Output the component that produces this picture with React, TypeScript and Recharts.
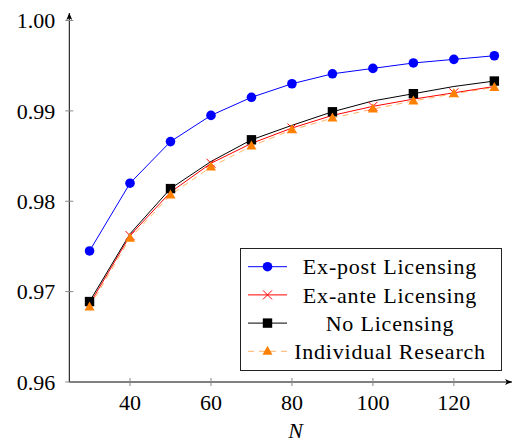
import React from 'react';
import { LineChart, Line, XAxis, YAxis, Legend } from 'recharts';

const nValues = [30, 40, 50, 60, 70, 80, 90, 100, 110, 120, 130];
const exPost = [0.9745, 0.982, 0.9866, 0.9895, 0.9915, 0.993, 0.9941, 0.9947, 0.9953, 0.9957, 0.9961];
const exAnte = [0.9686, 0.9762, 0.981, 0.9842, 0.9864, 0.9881, 0.9895, 0.9905, 0.9913, 0.992, 0.9927];
const noLicensing = [0.9689, 0.9764, 0.9814, 0.9844, 0.9868, 0.9884, 0.9899, 0.9911, 0.9919, 0.9927, 0.9933];
const individual = [0.9683, 0.9759, 0.9807, 0.9838, 0.9861, 0.9879, 0.9892, 0.9902, 0.9911, 0.9919, 0.9926];

const xTicks = [40, 60, 80, 100, 120];
const yTicks = [0.96, 0.97, 0.98, 0.99, 1.0];

const data = nValues.map((n, i) => ({
    n,
    exPost: exPost[i],
    exAnte: exAnte[i],
    noLicensing: noLicensing[i],
    individual: individual[i],
}));

const FONT = '"Liberation Serif", "Times New Roman", serif';
const textStyle = { fontFamily: FONT, fontSize: 22, fill: '#000' };
const BLUE = '#0000ff';
const RED = '#ff0000';
const ORANGE = '#ff8000';

// marker shapes, shared by the plot and the legend
const circle = (cx: number, cy: number, key?: string) => (
    <circle key={key} cx={cx} cy={cy} r={4.8} fill={BLUE} />
);
const cross = (cx: number, cy: number, key?: string) => (
    <path
        key={key}
        d={`M${cx - 4.5},${cy - 4.5}L${cx + 4.5},${cy + 4.5}M${cx - 4.5},${cy + 4.5}L${cx + 4.5},${cy - 4.5}`}
        stroke={RED}
        strokeWidth={1}
        fill="none"
    />
);
const square = (cx: number, cy: number, key?: string) => (
    <rect key={key} x={cx - 4.7} y={cy - 4.7} width={9.4} height={9.4} fill="#000" />
);
const triangle = (cx: number, cy: number, key?: string) => (
    <path key={key} d={`M${cx},${cy - 5.5}L${cx + 5},${cy + 3.5}L${cx - 5},${cy + 3.5}Z`} fill={ORANGE} />
);

// pgfplots "mark repeat" look: red and black only mark every other point
const blueDot = (p: any) => circle(p.cx, p.cy, `b-${p.index}`);
const redDot = (p: any) => (p.index % 2 === 1 ? cross(p.cx, p.cy, `r-${p.index}`) : <g key={`r-${p.index}`} />);
const blackDot = (p: any) => (p.index % 2 === 0 ? square(p.cx, p.cy, `k-${p.index}`) : <g key={`k-${p.index}`} />);
const orangeDot = (p: any) => triangle(p.cx, p.cy, `o-${p.index}`);

const YTick = ({ x, y, payload }: any) => (
    <g>
        <line x1={x - 4} x2={x + 4} y1={y} y2={y} stroke="#888" strokeWidth={1} />
        <text x={x - 14} y={y} dy="0.35em" textAnchor="end" style={textStyle}>
            {Number(payload.value).toFixed(2)}
        </text>
    </g>
);

const XTick = ({ x, y, payload }: any) => (
    <g>
        <line x1={x} x2={x} y1={y - 4} y2={y + 4} stroke="#888" strokeWidth={1} />
        <text x={x} y={y + 28} textAnchor="middle" style={textStyle}>
            {payload.value}
        </text>
    </g>
);

const legendItems = [
    { label: 'Ex-post Licensing', color: BLUE, dash: undefined, mark: circle },
    { label: 'Ex-ante Licensing', color: RED, dash: undefined, mark: cross },
    { label: 'No Licensing', color: '#000', dash: undefined, mark: square },
    { label: 'Individual Research', color: ORANGE, dash: '6 5', mark: triangle },
];

const LegendBox = () => (
    <svg width={262} height={124} style={{ display: 'block' }}>
        <rect x={0.5} y={0.5} width={261} height={122} fill="#fff" stroke="#222" strokeWidth={1} />
        {legendItems.map((item, i) => {
            const cy = 18.7 + i * 28.2;
            return (
                <g key={item.label}>
                    <line
                        x1={8}
                        x2={47}
                        y1={cy}
                        y2={cy}
                        stroke={item.color}
                        strokeWidth={1}
                        strokeDasharray={item.dash}
                        strokeOpacity={item.dash ? 0.6 : 1}
                    />
                    {item.mark(27.5, cy)}
                    <text x={150} y={cy} dy="0.35em" textAnchor="middle" style={{ ...textStyle, letterSpacing: 0.8 }}>
                        {item.label}
                    </text>
                </g>
            );
        })}
    </svg>
);

export default function App() {
    return (
        <div style={{ position: 'absolute', left: 0, top: 0, width: 512, height: 444, background: '#fff', fontFamily: FONT }}>
            <svg width={0} height={0} style={{ position: 'absolute' }}>
                <defs>
                    <marker
                        id="axisArrow"
                        viewBox="0 0 7 6"
                        refX={7}
                        refY={3}
                        markerWidth={7}
                        markerHeight={6}
                        markerUnits="userSpaceOnUse"
                        orient="auto-start-reverse"
                    >
                        <path d="M0,0 L7,3 L0,6 L1.8,3 Z" fill="#000" />
                    </marker>
                </defs>
            </svg>
            <LineChart
                width={512}
                height={444}
                data={data}
                margin={{ top: 13, right: 0, bottom: 2, left: 0 }}
                style={{ fontFamily: FONT }}
            >
                <XAxis
                    dataKey="n"
                    type="number"
                    domain={[25, 134.36]}
                    ticks={xTicks}
                    allowDataOverflow
                    height={60}
                    tickSize={0}
                    tickMargin={0}
                    tickLine={false}
                    tick={<XTick />}
                    axisLine={{ stroke: '#000', strokeWidth: 1, markerEnd: 'url(#axisArrow)' }}
                    label={{
                        value: 'N',
                        position: 'insideBottom',
                        offset: 4,
                        dx: 5,
                        style: { ...textStyle, fontStyle: 'italic' },
                    }}
                />
                <YAxis
                    type="number"
                    domain={[0.96, 1.00083]}
                    ticks={yTicks}
                    allowDataOverflow
                    width={69.3}
                    tickSize={0}
                    tickMargin={0}
                    tickLine={false}
                    tick={<YTick />}
                    axisLine={{ stroke: '#000', strokeWidth: 1, markerStart: 'url(#axisArrow)' }}
                />
                <Line dataKey="exPost" stroke={BLUE} strokeWidth={1} dot={blueDot} activeDot={false} isAnimationActive={false} />
                <Line dataKey="exAnte" stroke={RED} strokeWidth={1} dot={redDot} activeDot={false} isAnimationActive={false} />
                <Line dataKey="noLicensing" stroke="#000" strokeWidth={1} dot={blackDot} activeDot={false} isAnimationActive={false} />
                <Line
                    dataKey="individual"
                    stroke={ORANGE}
                    strokeOpacity={0.6}
                    strokeWidth={1}
                    strokeDasharray="6 5"
                    dot={orangeDot}
                    activeDot={false}
                    isAnimationActive={false}
                />
                <Legend
                    layout="horizontal"
                    verticalAlign="middle"
                    content={() => <LegendBox />}
                    wrapperStyle={{ position: 'absolute', left: 240, top: 248, width: 262, height: 124 }}
                />
            </LineChart>
        </div>
    );
}
